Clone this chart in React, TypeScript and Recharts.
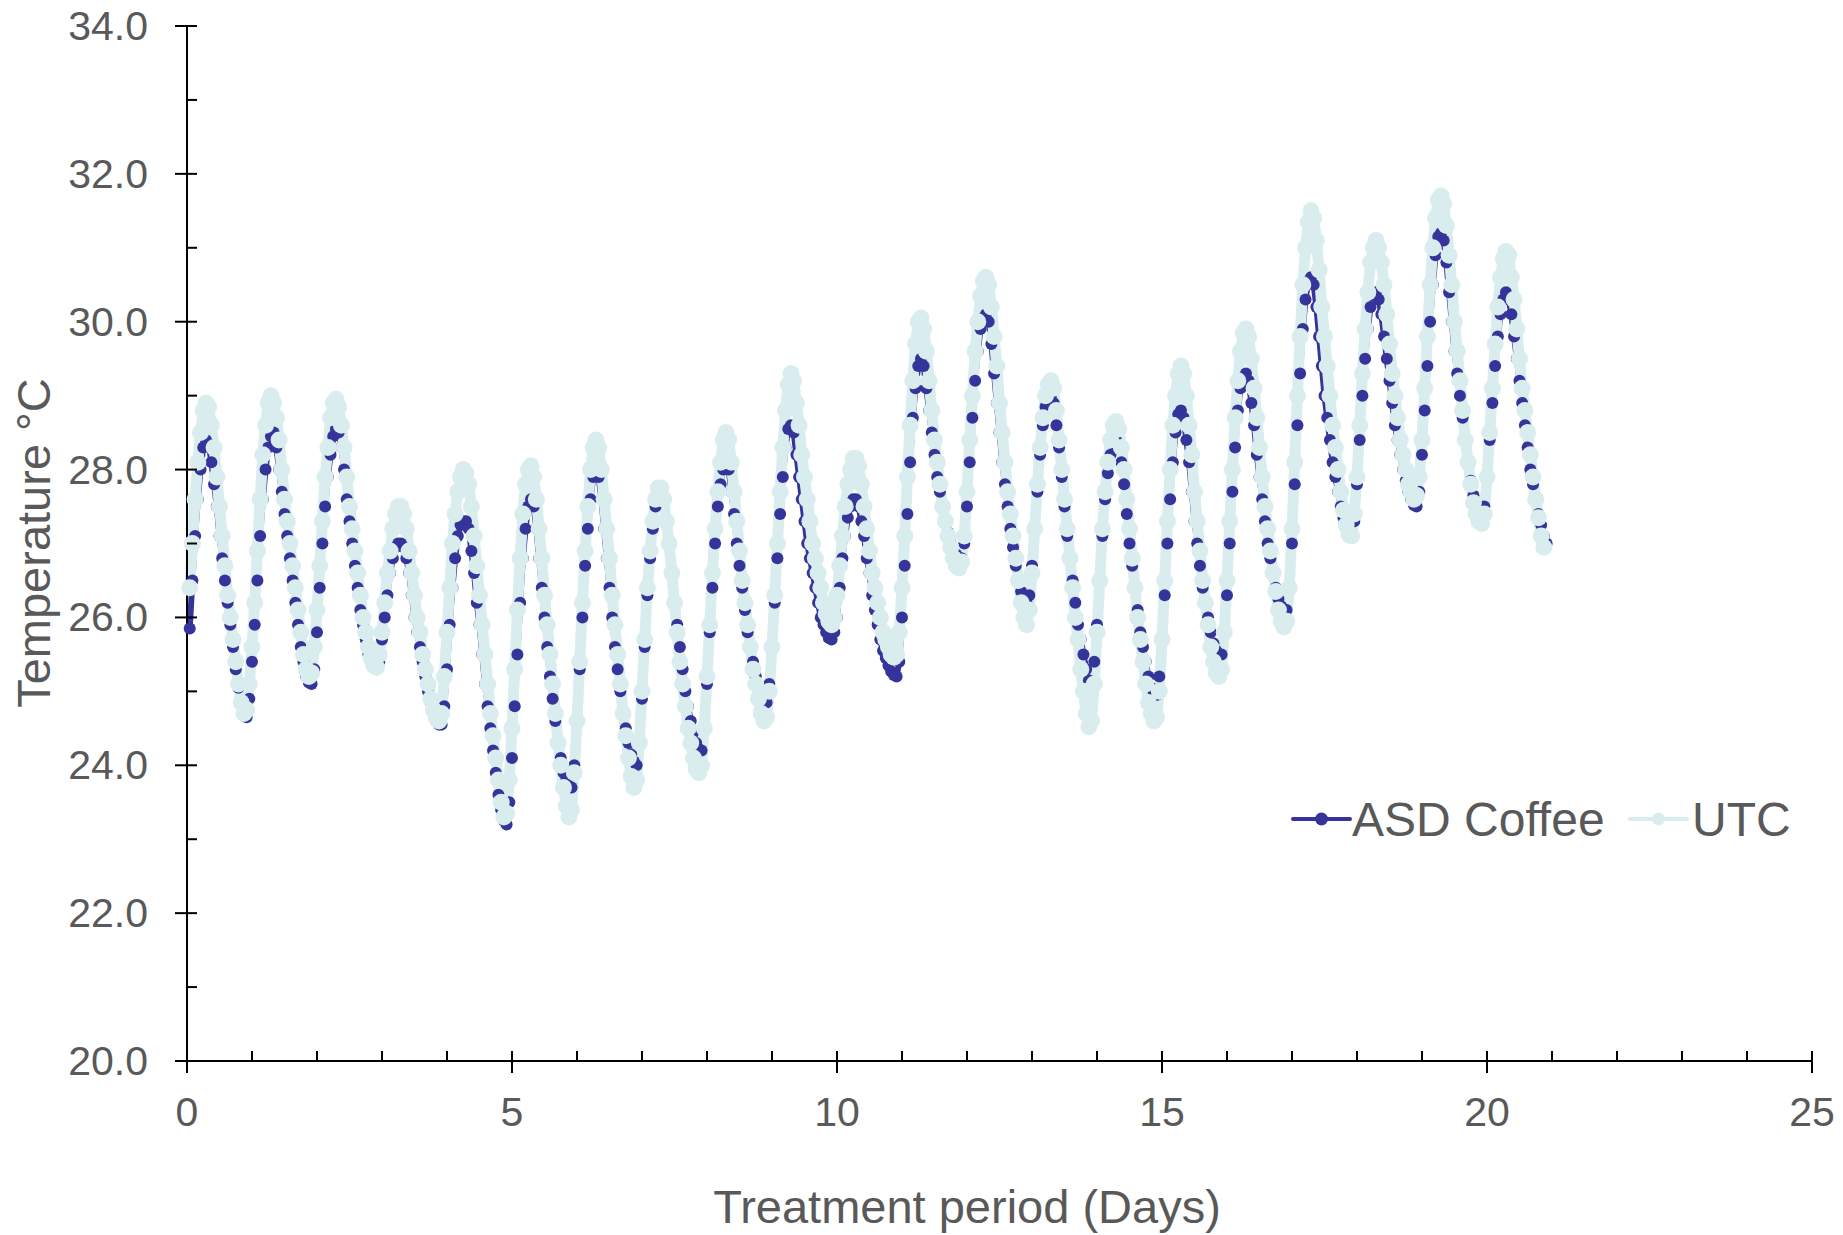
import React from "react";
import { LineChart, Line, XAxis, YAxis, Label } from "recharts";

// hourly logger readings, first reading at hour 1 of day 0
const START_HOUR = 1;

const ASD_COFFEE = [
  25.85, 26.5, 27.1, 27.6, 28.0, 28.3, 28.4, 28.35, 28.1, 27.8, 27.5, 27.1, 26.8, 26.5, 26.2, 25.9, 25.6, 25.3, 25.05, 24.85, 24.7, 24.65, 24.9,
  25.4, 25.9, 26.5, 27.1, 27.6, 28.0, 28.3, 28.45, 28.5, 28.3, 28.0, 27.7, 27.4, 27.1, 26.8, 26.5, 26.2, 25.9, 25.6, 25.4, 25.2, 25.12, 25.1, 25.3,
  25.8, 26.4, 27.0, 27.5, 27.9, 28.2, 28.45, 28.55, 28.5, 28.3, 28.0, 27.6, 27.3, 27.0, 26.7, 26.4, 26.1, 25.9, 25.7, 25.5, 25.4, 25.32, 25.3, 25.4,
  25.7, 26.0, 26.3, 26.6, 26.8, 26.95, 27.0, 27.0, 26.95, 26.8, 26.6, 26.3, 26.0, 25.8, 25.6, 25.4, 25.2, 25.0, 24.85, 24.7, 24.6, 24.55, 24.55, 24.8,
  25.3, 25.9, 26.4, 26.8, 27.1, 27.25, 27.3, 27.3, 27.2, 26.9, 26.6, 26.2, 25.9, 25.5, 25.1, 24.8, 24.5, 24.2, 23.9, 23.6, 23.4, 23.25, 23.2, 23.5,
  24.1, 24.8, 25.5, 26.2, 26.8, 27.2, 27.5, 27.6, 27.5, 27.2, 26.8, 26.4, 26.0, 25.6, 25.2, 24.9, 24.6, 24.3, 24.1, 23.9, 23.8, 23.72, 23.7, 24.0,
  24.6, 25.3, 26.0, 26.7, 27.2, 27.6, 27.9, 28.0, 27.9, 27.6, 27.2, 26.8, 26.4, 26.0, 25.6, 25.3, 25.0, 24.7, 24.5, 24.3, 24.15, 24.05, 24.0, 24.3,
  24.9, 25.6, 26.3, 26.8, 27.2, 27.5, 27.65, 27.7, 27.6, 27.3, 27.0, 26.6, 26.2, 25.9, 25.6, 25.3, 25.0, 24.8, 24.6, 24.45, 24.3, 24.22, 24.2, 24.5,
  25.1, 25.8, 26.4, 27.0, 27.5, 27.8, 28.0, 28.1, 28.0, 27.7, 27.4, 27.0, 26.7, 26.4, 26.1, 25.8, 25.6, 25.4, 25.2, 25.05, 24.95, 24.88, 24.85, 25.1,
  25.6, 26.2, 26.8, 27.4, 27.9, 28.3, 28.55, 28.6, 28.5, 28.2, 27.9, 27.6, 27.3, 27.0, 26.8, 26.6, 26.4, 26.2, 26.0, 25.9, 25.8, 25.72, 25.7, 25.8,
  26.0, 26.4, 26.8, 27.1, 27.35, 27.5, 27.6, 27.6, 27.5, 27.3, 27.1, 26.8, 26.6, 26.3, 26.1, 25.9, 25.7, 25.55, 25.45, 25.35, 25.27, 25.22, 25.2, 25.4,
  26.0, 26.7, 27.4, 28.1, 28.7, 29.1, 29.4, 29.5, 29.4, 29.1, 28.8, 28.5, 28.2, 27.9, 27.7, 27.5, 27.3, 27.15, 27.0, 26.9, 26.85, 26.8, 26.8, 27.0,
  27.5, 28.1, 28.7, 29.2, 29.6, 29.9, 30.05, 30.1, 30.0, 29.7, 29.3, 28.9, 28.5, 28.1, 27.8, 27.5, 27.2, 26.95, 26.7, 26.5, 26.35, 26.25, 26.2, 26.3,
  26.7, 27.2, 27.7, 28.2, 28.6, 28.85, 29.0, 29.0, 28.9, 28.6, 28.3, 27.9, 27.5, 27.1, 26.8, 26.5, 26.2, 25.9, 25.7, 25.5, 25.3, 25.15, 25.1, 25.4,
  25.9, 26.5, 27.1, 27.6, 27.95, 28.2, 28.35, 28.4, 28.3, 28.1, 27.8, 27.4, 27.0, 26.7, 26.4, 26.1, 25.8, 25.6, 25.4, 25.2, 25.05, 24.97, 24.95, 25.2,
  25.7, 26.3, 27.0, 27.6, 28.1, 28.5, 28.75, 28.8, 28.7, 28.4, 28.1, 27.7, 27.3, 27.0, 26.7, 26.4, 26.2, 26.0, 25.8, 25.65, 25.55, 25.5, 25.5, 25.8,
  26.3, 27.0, 27.7, 28.3, 28.8, 29.1, 29.25, 29.3, 29.2, 28.9, 28.6, 28.2, 27.9, 27.6, 27.3, 27.0, 26.8, 26.6, 26.4, 26.25, 26.15, 26.1, 26.1, 26.4,
  27.0, 27.8, 28.6, 29.3, 29.9, 30.3, 30.55, 30.6, 30.5, 30.2, 29.8, 29.4, 29.0, 28.7, 28.4, 28.1, 27.9, 27.7, 27.5, 27.35, 27.2, 27.12, 27.1, 27.3,
  27.8, 28.4, 29.0, 29.5, 29.9, 30.2, 30.35, 30.4, 30.3, 30.1, 29.8, 29.5, 29.2, 28.9, 28.6, 28.4, 28.2, 28.0, 27.85, 27.7, 27.6, 27.52, 27.5, 27.7,
  28.2, 28.8, 29.4, 30.0, 30.5, 30.9, 31.15, 31.2, 31.1, 30.8, 30.4, 30.0, 29.6, 29.3, 29.0, 28.7, 28.4, 28.1, 27.85, 27.65, 27.5, 27.42, 27.4, 27.5,
  27.9, 28.4, 28.9, 29.4, 29.8, 30.1, 30.3, 30.4, 30.3, 30.1, 29.8, 29.5, 29.2, 28.9, 28.6, 28.3, 28.0, 27.8, 27.6, 27.4, 27.25, 27.1, 27.0,
];

const UTC = [
  26.4, 27.0, 27.6, 28.1, 28.5, 28.8, 28.9, 28.85, 28.6, 28.3, 27.9, 27.5, 27.1, 26.7, 26.3, 26.0, 25.7, 25.4, 25.1, 24.85, 24.7, 24.75, 25.1,
  25.6, 26.2, 26.9, 27.6, 28.2, 28.6, 28.9, 29.0, 28.9, 28.7, 28.4, 28.0, 27.6, 27.3, 27.0, 26.7, 26.4, 26.1, 25.8, 25.5, 25.3, 25.2, 25.25, 25.6,
  26.1, 26.7, 27.3, 27.9, 28.3, 28.7, 28.9, 28.95, 28.85, 28.6, 28.3, 27.9, 27.5, 27.2, 26.9, 26.6, 26.3, 26.0, 25.8, 25.6, 25.45, 25.35, 25.33, 25.5,
  25.8, 26.2, 26.6, 26.9, 27.2, 27.4, 27.5, 27.5, 27.4, 27.2, 26.9, 26.6, 26.3, 26.0, 25.8, 25.5, 25.3, 25.1, 24.9, 24.75, 24.65, 24.6, 24.7, 25.2,
  25.8, 26.4, 27.0, 27.4, 27.7, 27.9, 28.0, 27.95, 27.8, 27.5, 27.1, 26.7, 26.3, 25.9, 25.5, 25.1, 24.7, 24.4, 24.1, 23.8, 23.5, 23.3, 23.35, 23.8,
  24.5, 25.3, 26.1, 26.8, 27.4, 27.8, 28.0, 28.05, 27.9, 27.6, 27.2, 26.8, 26.3, 25.9, 25.5, 25.1, 24.7, 24.3, 24.0, 23.7, 23.45, 23.3, 23.4, 23.9,
  24.6, 25.4, 26.2, 26.9, 27.5, 28.0, 28.3, 28.4, 28.3, 28.0, 27.6, 27.2, 26.8, 26.3, 25.9, 25.5, 25.1, 24.7, 24.4, 24.1, 23.85, 23.7, 23.8, 24.3,
  25.0, 25.7, 26.4, 26.9, 27.3, 27.6, 27.75, 27.75, 27.6, 27.3, 27.0, 26.6, 26.2, 25.8, 25.4, 25.1, 24.8, 24.5, 24.3, 24.1, 23.95, 23.9, 24.0, 24.5,
  25.2, 25.9, 26.6, 27.2, 27.7, 28.1, 28.4, 28.5, 28.4, 28.1, 27.7, 27.3, 26.9, 26.5, 26.2, 25.9, 25.6, 25.3, 25.1, 24.9, 24.7, 24.6, 24.65, 25.0,
  25.6, 26.3, 27.0, 27.7, 28.3, 28.8, 29.15, 29.3, 29.2, 28.9, 28.6, 28.2, 27.9, 27.6, 27.3, 27.0, 26.8, 26.6, 26.4, 26.2, 26.05, 25.95, 25.9, 26.0,
  26.3, 26.7, 27.1, 27.5, 27.8, 28.0, 28.15, 28.15, 28.05, 27.8, 27.5, 27.2, 26.9, 26.6, 26.4, 26.2, 26.0, 25.8, 25.7, 25.6, 25.5, 25.46, 25.5, 25.8,
  26.4, 27.1, 27.9, 28.6, 29.2, 29.7, 30.0, 30.05, 29.9, 29.6, 29.2, 28.8, 28.4, 28.1, 27.8, 27.5, 27.3, 27.1, 26.95, 26.8, 26.7, 26.67, 26.75, 27.1,
  27.7, 28.4, 29.0, 29.6, 30.0, 30.35, 30.55, 30.6, 30.5, 30.2, 29.8, 29.4, 28.9, 28.5, 28.1, 27.7, 27.4, 27.1, 26.8, 26.5, 26.2, 26.0, 25.9, 26.1,
  26.6, 27.2, 27.8, 28.3, 28.7, 29.0, 29.15, 29.2, 29.1, 28.8, 28.4, 28.0, 27.6, 27.2, 26.8, 26.4, 26.0, 25.7, 25.3, 25.0, 24.7, 24.52, 24.6, 25.1,
  25.8, 26.5, 27.2, 27.7, 28.1, 28.4, 28.6, 28.65, 28.55, 28.3, 28.0, 27.6, 27.2, 26.8, 26.4, 26.0, 25.7, 25.4, 25.1, 24.85, 24.7, 24.6, 24.65, 25.0,
  25.7, 26.5, 27.3, 28.0, 28.6, 29.0, 29.3, 29.4, 29.3, 29.0, 28.6, 28.2, 27.7, 27.3, 26.9, 26.5, 26.2, 25.9, 25.6, 25.4, 25.25, 25.2, 25.3, 25.8,
  26.5, 27.3, 28.0, 28.7, 29.2, 29.6, 29.85, 29.9, 29.8, 29.5, 29.1, 28.7, 28.3, 27.9, 27.5, 27.2, 26.9, 26.6, 26.35, 26.1, 25.95, 25.87, 25.95, 26.4,
  27.2, 28.1, 29.0, 29.8, 30.5, 31.0, 31.35, 31.5, 31.4, 31.1, 30.7, 30.2, 29.8, 29.4, 29.0, 28.6, 28.3, 28.0, 27.7, 27.45, 27.25, 27.12, 27.1, 27.4,
  27.9, 28.6, 29.3, 29.9, 30.4, 30.8, 31.0, 31.1, 31.0, 30.8, 30.5, 30.1, 29.7, 29.3, 29.0, 28.7, 28.4, 28.2, 28.0, 27.8, 27.7, 27.6, 27.65, 27.9,
  28.4, 29.1, 29.8, 30.5, 31.0, 31.4, 31.65, 31.7, 31.6, 31.3, 30.9, 30.5, 30.0, 29.6, 29.2, 28.8, 28.4, 28.1, 27.8, 27.55, 27.4, 27.3, 27.27, 27.4,
  27.9, 28.5, 29.1, 29.7, 30.2, 30.6, 30.85, 30.95, 30.9, 30.6, 30.3, 29.9, 29.5, 29.1, 28.8, 28.5, 28.2, 27.9, 27.6, 27.35, 27.1, 26.95,
];

const X_TICKS = [0, 1, 2, 3, 4, 5, 6, 7, 8, 9, 10, 11, 12, 13, 14, 15, 16, 17, 18, 19, 20, 21, 22, 23, 24, 25];
const Y_TICKS = [20, 21, 22, 23, 24, 25, 26, 27, 28, 29, 30, 31, 32, 33, 34];

const DARK = "#34349a";
const LIGHT = "#d9edef";
const TEXT = "#595959";
const FONT = "'Liberation Sans', Arial, sans-serif";

const rows = ASD_COFFEE.map((v, i) => ({
  day: (START_HOUR + i) / 24,
  asd: v,
  utc: UTC[i],
}));

const XTick = (props: any) => {
  const { x, y, payload } = props;
  const major = payload.value % 5 === 0;
  return (
    <g>
      <line x1={x} x2={x} y1={y - 10} y2={major ? y + 12 : y} stroke="#000" strokeWidth={2} />
      {major && (
        <text x={x} y={y + 65} textAnchor="middle" fill={TEXT} fontSize={41} fontFamily={FONT}>
          {payload.value}
        </text>
      )}
    </g>
  );
};

const YTick = (props: any) => {
  const { x, y, payload } = props;
  const major = payload.value % 2 === 0;
  return (
    <g>
      <line x1={major ? x - 12 : x} x2={x + 10} y1={y} y2={y} stroke="#000" strokeWidth={2} />
      {major && (
        <text x={x - 39} y={y + 14} textAnchor="end" fill={TEXT} fontSize={41} fontFamily={FONT}>
          {payload.value.toFixed(1)}
        </text>
      )}
    </g>
  );
};

const LegendBox = () => (
  <svg
    width={520}
    height={60}
    style={{ position: "absolute", left: 1290, top: 789 }}
  >
    <line x1={3} x2={60} y1={30} y2={30} stroke={DARK} strokeWidth={4} strokeLinecap="round" />
    <circle cx={31.5} cy={30} r={6.5} fill={DARK} />
    <text x={62} y={47} fill={TEXT} fontSize={48} fontFamily={FONT}>ASD Coffee</text>
    <line x1={340} x2={397} y1={30} y2={30} stroke={LIGHT} strokeWidth={4} strokeLinecap="round" />
    <circle cx={368.5} cy={30} r={6.5} fill={LIGHT} />
    <text x={402} y={47} fill={TEXT} fontSize={48} fontFamily={FONT}>UTC</text>
  </svg>
);

export default function App() {
  return (
    <div
      style={{
        position: "absolute",
        left: 0,
        top: 0,
        width: 1843,
        height: 1235,
        background: "#fff",
        fontFamily: FONT,
      }}
    >
      <LineChart
        width={1843}
        height={1235}
        data={rows}
        margin={{ top: 26, right: 31, bottom: 0, left: 0 }}
      >
        <XAxis
          dataKey="day"
          type="number"
          domain={[0, 25]}
          ticks={X_TICKS}
          interval={0}
          height={174}
          tickSize={0}
          tickMargin={0}
          tickLine={false}
          axisLine={{ stroke: "#000", strokeWidth: 2 }}
          tick={<XTick />}
        >
          <Label
            value="Treatment period (Days)"
            content={() => (
              <text x={967} y={1223} textAnchor="middle" fill={TEXT} fontSize={47} fontFamily={FONT}>
                Treatment period (Days)
              </text>
            )}
          />
        </XAxis>
        <YAxis
          type="number"
          domain={[20, 34]}
          ticks={Y_TICKS}
          interval={0}
          width={187}
          tickSize={0}
          tickMargin={0}
          tickLine={false}
          axisLine={{ stroke: "#000", strokeWidth: 2 }}
          tick={<YTick />}
        >
          <Label
            value="Temperature °C"
            content={() => (
              <text
                x={33}
                y={543}
                transform="rotate(-90 33 543)"
                textAnchor="middle"
                dominantBaseline="central"
                fill={TEXT}
                fontSize={47}
                fontFamily={FONT}
              >
                Temperature °C
              </text>
            )}
          />
        </YAxis>
        {/* wide round-joined strokes make the hourly markers read as a dense chain */}
        <Line
          type="linear"
          dataKey="asd"
          name="ASD Coffee"
          stroke={DARK}
          strokeWidth={6}
          strokeLinejoin="round"
          strokeLinecap="round"
          dot={{ r: 6, fill: DARK, stroke: "none" }}
          isAnimationActive={false}
        />
        <Line
          type="linear"
          dataKey="utc"
          name="UTC"
          stroke={LIGHT}
          strokeWidth={11}
          strokeLinejoin="round"
          strokeLinecap="round"
          dot={{ r: 8.5, fill: LIGHT, stroke: "none" }}
          isAnimationActive={false}
        />
      </LineChart>
      <LegendBox />
    </div>
  );
}
